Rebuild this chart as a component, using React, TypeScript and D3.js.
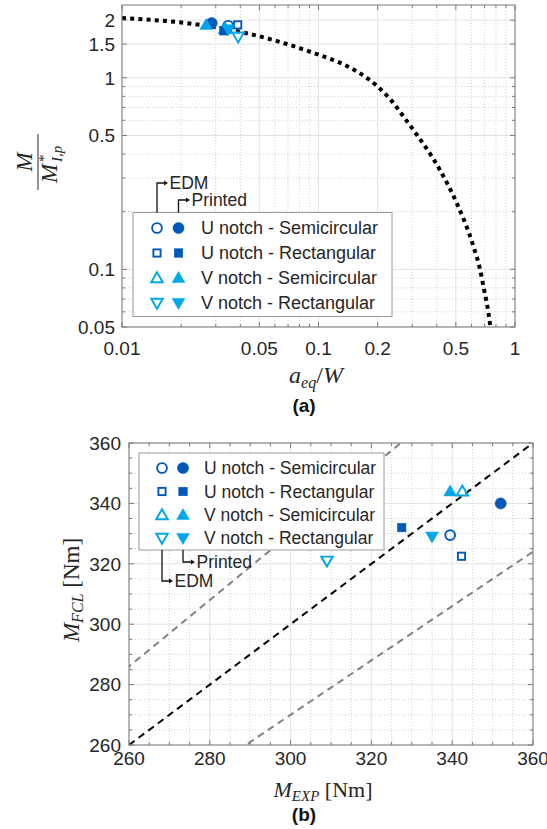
import React from 'react';
import * as d3 from 'd3';

// ---------- data ----------
const seriesNames = ['U notch - Semicircular', 'U notch - Rectangular', 'V notch - Semicircular', 'V notch - Rectangular'];
const seriesShapes = ['circle', 'square', 'triUp', 'triDown'];
const seriesColors = ['#0059B9', '#0059B9', '#00A6EA', '#00A6EA'];

// (a) theoretical curve  a_eq/W -> M/M*_{I,p}
const curveX = [0.01, 0.025, 0.043, 0.094, 0.14, 0.176, 0.2, 0.235, 0.27, 0.31, 0.415, 0.505, 0.614, 0.664, 0.69, 0.735, 0.75];
const curveY = [2.05, 1.89, 1.71, 1.35, 1.15, 1.0, 0.9, 0.76, 0.63, 0.52, 0.33, 0.222, 0.132, 0.1, 0.082, 0.058, 0.05];

// (a) experimental points (order = seriesNames)
const topEdmX = [0.0347, 0.0388, 0.0335, 0.039];
const topEdmY = [1.87, 1.89, 1.8, 1.64];
const topPrintedX = [0.0286, 0.033, 0.0268, 0.0347];
const topPrintedY = [1.93, 1.76, 1.89, 1.79];

// (b) M_EXP vs M_FCL (order = seriesNames)
const botEdmX = [339.5, 342.3, 342.5, 309];
const botEdmY = [329.5, 322.5, 344, 321];
const botPrintedX = [352, 327.5, 339.5, 335];
const botPrintedY = [340, 332, 344, 329];

const topXTicks = [0.01, 0.05, 0.1, 0.2, 0.5, 1];
const topXTickLabels = ['0.01', '0.05', '0.1', '0.2', '0.5', '1'];
const topYTicks = [0.05, 0.1, 0.5, 1, 1.5, 2];
const topYTickLabels = ['0.05', '0.1', '0.5', '1', '1.5', '2'];
const botTicks = [260, 280, 300, 320, 340, 360];
const botTickLabels = ['260', '280', '300', '320', '340', '360'];
const bandFactors = [1.1, 0.9];

// ---------- styles ----------
const SANS = 'Liberation Sans, Arial, sans-serif';
const SERIF = 'Liberation Serif, Times New Roman, serif';
const TXT = '#262626';
const FRAME = '#7a7a7a';
const GRID_MAJ = '#e2e2e2';
const GRID_MIN = '#cfcfcf';

// ---------- scales ----------
const topX = d3.scaleLog().domain([0.01, 1]).range([122, 515]);
const topY = d3.scaleLog().domain([0.05, 2.4]).range([327, 5]);
const botX = d3.scaleLinear().domain([260, 360]).range([129, 533]);
const botY = d3.scaleLinear().domain([260, 360]).range([745, 443]);

function logMinor(lo: number, hi: number, majors: number[]) {
  const out: number[] = [];
  for (let d = Math.pow(10, Math.floor(Math.log10(lo))); d < hi; d *= 10) {
    for (let k = 1; k <= 9; k++) {
      const v = +(d * k).toPrecision(6);
      if (v > lo * 1.0001 && v < hi * 0.9999 && !majors.some((m) => Math.abs(m - v) < 1e-9)) out.push(v);
    }
  }
  return out;
}
const topXMinor = logMinor(0.01, 1, topXTicks);
const topYMinor = logMinor(0.05, 2.4, topYTicks);
const botMinor = d3.range(260, 361, 5).filter((v) => !botTicks.includes(v));

function Marker({ shape, x, y, color, filled }: any) {
  const sw = 1.9;
  const fill = filled ? color : 'none';
  const stroke = color;
  if (shape === 'circle') return <circle cx={x} cy={y} r={filled ? 5.6 : 4.9} fill={fill} stroke={stroke} strokeWidth={filled ? 0.5 : sw} />;
  if (shape === 'square') {
    const s = filled ? 8.5 : 7.2;
    return <rect x={x - s / 2} y={y - s / 2} width={s} height={s} fill={fill} stroke={stroke} strokeWidth={filled ? 0.5 : sw} />;
  }
  const hw = filled ? 6.4 : 5.8;
  const up = shape === 'triUp';
  const h1 = filled ? 6.4 : 5.8;
  const h2 = filled ? 4.6 : 4.2;
  const d = up
    ? `M${x},${y - h1} L${x + hw},${y + h2} L${x - hw},${y + h2} Z`
    : `M${x},${y + h1} L${x + hw},${y - h2} L${x - hw},${y - h2} Z`;
  return <path d={d} fill={fill} stroke={stroke} strokeWidth={filled ? 0.5 : sw} strokeLinejoin="miter" />;
}

function Frame({ x0, x1, y0, y1, xMaj, xMin, yMaj, yMin }: any) {
  const L = 5, l = 3;
  return (
    <g stroke={FRAME} strokeWidth={1}>
      <rect x={x0} y={y0} width={x1 - x0} height={y1 - y0} fill="none" />
      {xMaj.map((px: number, i: number) => (
        <g key={'xm' + i}>
          <line x1={px} x2={px} y1={y1} y2={y1 - L} />
          <line x1={px} x2={px} y1={y0} y2={y0 + L} />
        </g>
      ))}
      {xMin.map((px: number, i: number) => (
        <g key={'xn' + i}>
          <line x1={px} x2={px} y1={y1} y2={y1 - l} />
          <line x1={px} x2={px} y1={y0} y2={y0 + l} />
        </g>
      ))}
      {yMaj.map((py: number, i: number) => (
        <g key={'ym' + i}>
          <line x1={x0} x2={x0 + L} y1={py} y2={py} />
          <line x1={x1} x2={x1 - L} y1={py} y2={py} />
        </g>
      ))}
      {yMin.map((py: number, i: number) => (
        <g key={'yn' + i}>
          <line x1={x0} x2={x0 + l} y1={py} y2={py} />
          <line x1={x1} x2={x1 - l} y1={py} y2={py} />
        </g>
      ))}
    </g>
  );
}

function Grid({ x0, x1, y0, y1, xMaj, xMin, yMaj, yMin }: any) {
  return (
    <g>
      <g stroke={GRID_MIN} strokeWidth={1} strokeDasharray="1 2">
        {xMin.map((px: number, i: number) => <line key={'a' + i} x1={px} x2={px} y1={y0} y2={y1} />)}
        {yMin.map((py: number, i: number) => <line key={'b' + i} x1={x0} x2={x1} y1={py} y2={py} />)}
      </g>
      <g stroke={GRID_MAJ} strokeWidth={1}>
        {xMaj.map((px: number, i: number) => <line key={'c' + i} x1={px} x2={px} y1={y0} y2={y1} />)}
        {yMaj.map((py: number, i: number) => <line key={'d' + i} x1={x0} x2={x1} y1={py} y2={py} />)}
      </g>
    </g>
  );
}

function Legend({ x, y, w, h, rows, openX, fillX, textX, fs }: any) {
  return (
    <g>
      <rect x={x} y={y} width={w} height={h} fill="white" stroke="#9a9a9a" strokeWidth={1} />
      {seriesNames.map((name, i) => (
        <g key={i}>
          <Marker shape={seriesShapes[i]} x={openX} y={rows[i]} color={seriesColors[i]} filled={false} />
          <Marker shape={seriesShapes[i]} x={fillX} y={rows[i]} color={seriesColors[i]} filled={true} />
          <text x={textX} y={rows[i]} dy="0.36em" fontFamily={SANS} fontSize={fs} fill={TXT}>{name}</text>
        </g>
      ))}
    </g>
  );
}

function Arrow({ x, yStart, yEnd, xEnd, label, fs }: any) {
  return (
    <g>
      <path d={`M${x},${yStart} L${x},${yEnd} L${xEnd - 3},${yEnd}`} fill="none" stroke="#111" strokeWidth={1.3} />
      <path d={`M${xEnd},${yEnd} L${xEnd - 4},${yEnd - 2.6} L${xEnd - 4},${yEnd + 2.6} Z`} fill="#111" />
      <text x={xEnd + 1.5} y={yEnd} dy="0.36em" fontFamily={SANS} fontSize={fs} fill={TXT}>{label}</text>
    </g>
  );
}

export default function App() {
  // ---------- (a) ----------
  const tx0 = 122, tx1 = 515, ty0 = 5, ty1 = 327;
  const tXMaj = topXTicks.map((v) => topX(v));
  const tXMin = topXMinor.map((v) => topX(v));
  const tYMaj = topYTicks.map((v) => topY(v));
  const tYMin = topYMinor.map((v) => topY(v));
  const curvePts: [number, number][] = curveX.map((v, i) => [topX(v), topY(curveY[i])]);
  const curvePath = d3.line().curve(d3.curveMonotoneX)(curvePts) || '';

  // ---------- (b) ----------
  const bx0 = 129, bx1 = 533, by0 = 443, by1 = 745;
  const bXMaj = botTicks.map((v) => botX(v));
  const bXMin = botMinor.map((v) => botX(v));
  const bYMaj = botTicks.map((v) => botY(v));
  const bYMin = botMinor.map((v) => botY(v));
  const diag = d3.line()([[botX(260), botY(260)], [botX(360), botY(360)]]) || '';
  const bandPaths = bandFactors.map((f) => {
    const pts: [number, number][] = d3.range(250, 371, 5).map((v) => [botX(v), botY(v * f)]);
    return d3.line()(pts) || '';
  });

  return (
    <svg width={547} height={829} style={{ position: 'absolute', left: 0, top: 0, background: 'white' }}>
      <defs>
        <clipPath id="clipTop"><rect x={tx0} y={ty0} width={tx1 - tx0} height={ty1 - ty0} /></clipPath>
        <clipPath id="clipBot"><rect x={bx0} y={by0} width={bx1 - bx0} height={by1 - by0} /></clipPath>
      </defs>
      <rect x={0} y={0} width={547} height={829} fill="white" />

      {/* ===== (a) ===== */}
      <rect x={tx0} y={ty0} width={tx1 - tx0} height={ty1 - ty0} fill="white" />
      <Grid x0={tx0} x1={tx1} y0={ty0} y1={ty1} xMaj={tXMaj} xMin={tXMin} yMaj={tYMaj} yMin={tYMin} />
      <g clipPath="url(#clipTop)">
        <path d={curvePath} fill="none" stroke="#000" strokeWidth={4} strokeDasharray="4 4.2" />
        {topEdmX.map((v, i) => (
          <Marker key={'te' + i} shape={seriesShapes[i]} x={topX(v)} y={topY(topEdmY[i])} color={seriesColors[i]} filled={false} />
        ))}
        {topPrintedX.map((v, i) => (
          <Marker key={'tp' + i} shape={seriesShapes[i]} x={topX(v)} y={topY(topPrintedY[i])} color={seriesColors[i]} filled={true} />
        ))}
      </g>
      <Frame x0={tx0} x1={tx1} y0={ty0} y1={ty1} xMaj={tXMaj} xMin={tXMin} yMaj={tYMaj} yMin={tYMin} />
      {topXTicks.map((v, i) => (
        <text key={'txl' + i} x={topX(v)} y={355} textAnchor="middle" fontFamily={SANS} fontSize={19} fill={TXT}>{topXTickLabels[i]}</text>
      ))}
      {topYTicks.map((v, i) => (
        <text key={'tyl' + i} x={tx0 - 7} y={topY(v)} dy="0.36em" textAnchor="end" fontFamily={SANS} fontSize={19} fill={TXT}>{topYTickLabels[i]}</text>
      ))}
      <text x={316} y={383} textAnchor="middle" fontFamily={SERIF} fontSize={24} fill={TXT}>
        <tspan fontStyle="italic">a</tspan>
        <tspan fontStyle="italic" fontSize={16} dy={5}>eq</tspan>
        <tspan dy={-5}>/</tspan>
        <tspan fontStyle="italic">W</tspan>
      </text>
      <g transform="translate(38,162) rotate(-90)" fontFamily={SERIF} fill={TXT}>
        <text x={0} y={-6} textAnchor="middle" fontStyle="italic" fontSize={23}>M</text>
        <line x1={-28} x2={28} y1={0} y2={0} stroke={TXT} strokeWidth={1} />
        <text x={-21} y={19} fontStyle="italic" fontSize={23}>M</text>
        <text x={0} y={11} fontSize={15}>*</text>
        <text x={0} y={24} fontStyle="italic" fontSize={15}>I,p</text>
      </g>
      <text x={304} y={412} textAnchor="middle" fontFamily={SANS} fontWeight="bold" fontSize={19} fill="#111">(a)</text>

      <Legend x={133} y={212.5} w={259} h={104} rows={[228, 253, 278, 303]} openX={157} fillX={178.5} textX={201} fs={18} />
      <Arrow x={157} yStart={212.5} yEnd={183} xEnd={168} label="EDM" fs={17.5} />
      <Arrow x={178.5} yStart={212.5} yEnd={200} xEnd={190} label="Printed" fs={17.5} />

      {/* ===== (b) ===== */}
      <rect x={bx0} y={by0} width={bx1 - bx0} height={by1 - by0} fill="white" />
      <Grid x0={bx0} x1={bx1} y0={by0} y1={by1} xMaj={bXMaj} xMin={bXMin} yMaj={bYMaj} yMin={bYMin} />
      <g clipPath="url(#clipBot)">
        {bandPaths.map((p, i) => (
          <path key={'band' + i} d={p} fill="none" stroke="#828282" strokeWidth={2} strokeDasharray="7 5" />
        ))}
        <path d={diag} fill="none" stroke="#000" strokeWidth={2} strokeDasharray="7 5" />
        {botEdmX.map((v, i) => (
          <Marker key={'be' + i} shape={seriesShapes[i]} x={botX(v)} y={botY(botEdmY[i])} color={seriesColors[i]} filled={false} />
        ))}
        {botPrintedX.map((v, i) => (
          <Marker key={'bp' + i} shape={seriesShapes[i]} x={botX(v)} y={botY(botPrintedY[i])} color={seriesColors[i]} filled={true} />
        ))}
      </g>
      <Frame x0={bx0} x1={bx1} y0={by0} y1={by1} xMaj={bXMaj} xMin={bXMin} yMaj={bYMaj} yMin={bYMin} />
      {botTicks.map((v, i) => (
        <text key={'bxl' + i} x={botX(v)} y={765} textAnchor="middle" fontFamily={SANS} fontSize={19} fill={TXT}>{botTickLabels[i]}</text>
      ))}
      {botTicks.map((v, i) => (
        <text key={'byl' + i} x={bx0 - 8} y={botY(v)} dy="0.36em" textAnchor="end" fontFamily={SANS} fontSize={19} fill={TXT}>{botTickLabels[i]}</text>
      ))}
      <text x={323} y={797} textAnchor="middle" fontFamily={SERIF} fontSize={22} fill={TXT}>
        <tspan fontStyle="italic">M</tspan>
        <tspan fontStyle="italic" fontSize={15} dy={4}>EXP</tspan>
        <tspan dy={-4}> [Nm]</tspan>
      </text>
      <text transform="translate(79,590) rotate(-90)" textAnchor="middle" fontFamily={SERIF} fontSize={23} fill={TXT}>
        <tspan fontStyle="italic">M</tspan>
        <tspan fontStyle="italic" fontSize={16} dy={4}>FCL</tspan>
        <tspan dy={-4}> [Nm]</tspan>
      </text>
      <text x={304} y={821} textAnchor="middle" fontFamily={SANS} fontWeight="bold" fontSize={19} fill="#111">(b)</text>

      <Legend x={139} y={453} w={245} h={97} rows={[468, 491.5, 515, 538]} openX={162} fillX={183} textX={204} fs={17.5} />
      <Arrow x={183} yStart={550} yEnd={562} xEnd={195} label="Printed" fs={17.5} />
      <Arrow x={162} yStart={550} yEnd={581} xEnd={173} label="EDM" fs={17.5} />
    </svg>
  );
}
